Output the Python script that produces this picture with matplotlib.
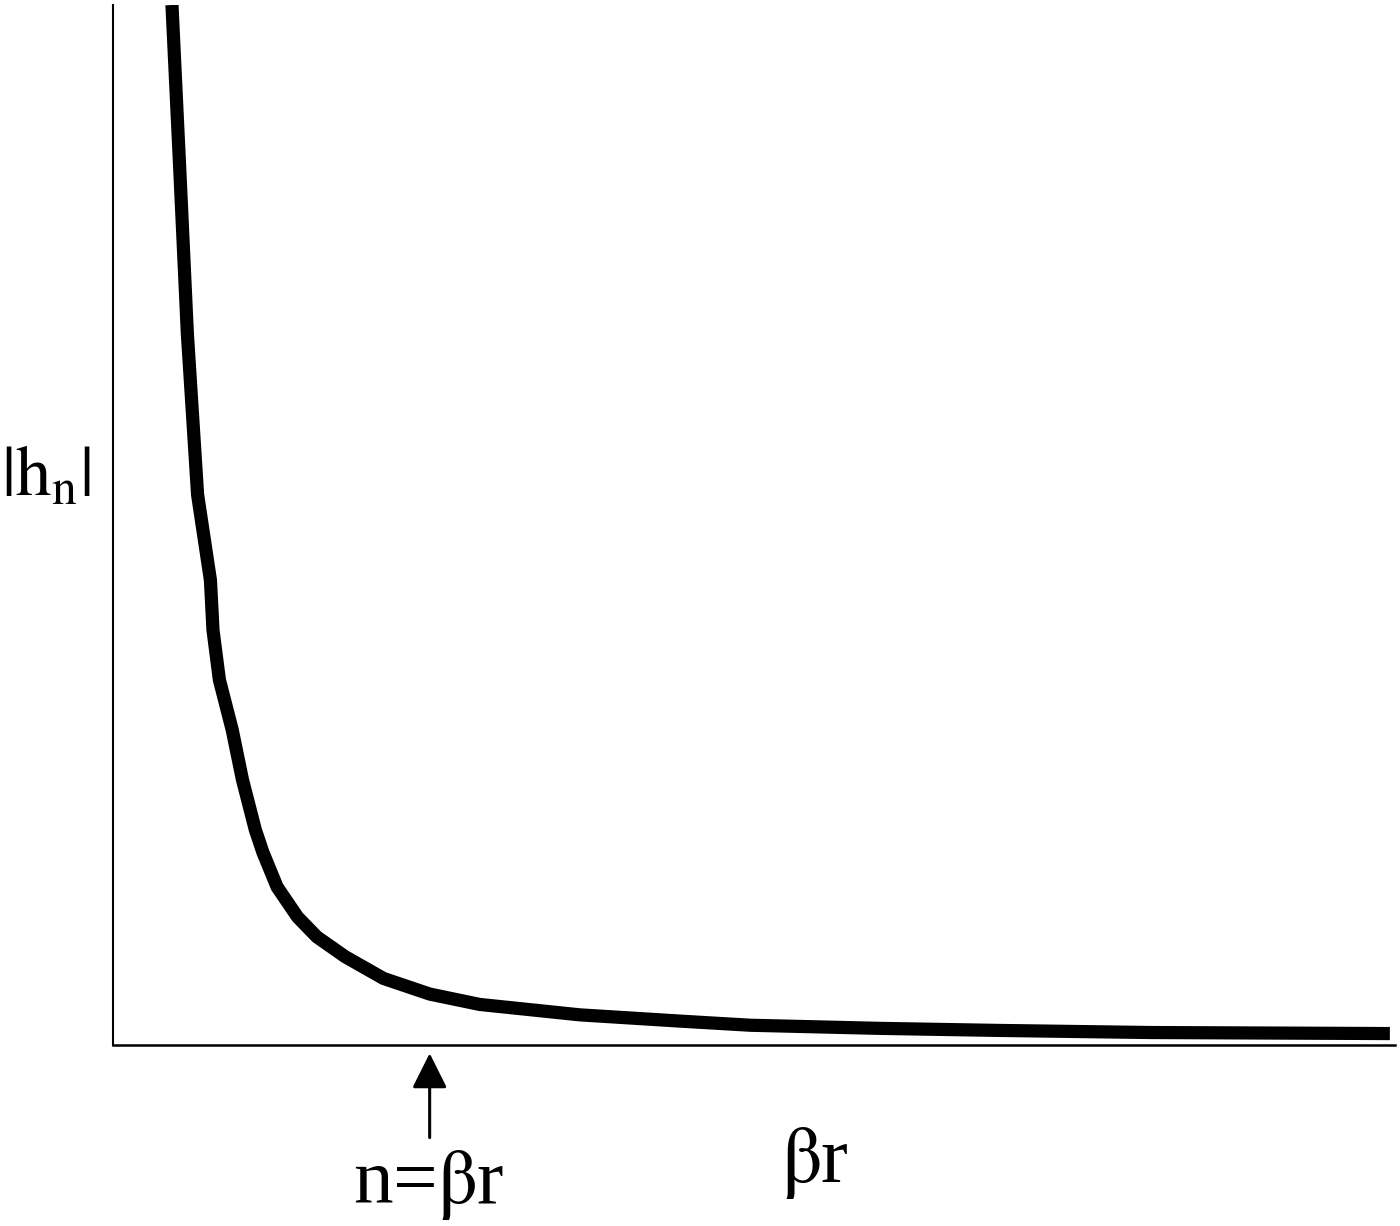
import matplotlib.pyplot as plt

# --- данные (кривая |h_n| от βr, в условных единицах) ---
br = [0.46, 0.52, 0.58, 0.66, 0.76, 0.78, 0.83, 0.93, 1.01, 1.11, 1.17,
      1.28, 1.44, 1.59, 1.81, 2.11, 2.47, 2.86, 3.25, 3.64, 4.03, 4.42,
      4.97, 5.98, 6.92, 8.09, 9.96]
hn = [10.0, 8.44, 6.84, 5.29, 4.47, 3.99, 3.51, 3.03, 2.55, 2.07, 1.85,
      1.52, 1.23, 1.04, 0.85, 0.64, 0.49, 0.39, 0.34, 0.29, 0.26, 0.23,
      0.19, 0.16, 0.14, 0.12, 0.11]
n_mark = 2.47

plt.rcParams['font.family'] = ['Liberation Serif', 'DejaVu Serif']
plt.rcParams['mathtext.fontset'] = 'stix'

W, H = 1400, 1226
fig = plt.figure(figsize=(W / 100, H / 100), dpi=100)
ax = fig.add_axes([113 / W, (H - 1045) / H, (1395 - 113) / W, (1045 - 5) / H])

ax.plot(br, hn, color='black', lw=9.5, solid_capstyle='butt', solid_joinstyle='round')
ax.set_xlim(0, 10)
ax.set_ylim(0, 10)

for s in ['top', 'right']:
    ax.spines[s].set_visible(False)
ax.spines['left'].set_linewidth(1.5)
ax.spines['bottom'].set_linewidth(1.8)
ax.set_xticks([])
ax.set_yticks([])

# стрелка n=βr
ax.annotate('', xy=(n_mark, -0.08), xytext=(n_mark, -0.89),
            xycoords='data', textcoords='data',
            arrowprops=dict(arrowstyle='-|>,head_length=0.4,head_width=0.2',
                            color='black', lw=2.2,
                            mutation_scale=54, shrinkA=0, shrinkB=0),
            annotation_clip=False)
fig.text(428 / W, 1 - 1185 / H, r'n=$\mathrm{\beta}$r', fontsize=57,
         ha='center', va='center')

fig.text(815 / W, 1 - 1163 / H, r'$\mathrm{\beta}$r', fontsize=58,
         ha='center', va='center')
fig.text(46 / W, 1 - 478 / H, r'$|\mathrm{h}_\mathrm{n}|$', fontsize=51,
         ha='center', va='center')

fig.savefig('out.png', dpi=100, facecolor='white')
